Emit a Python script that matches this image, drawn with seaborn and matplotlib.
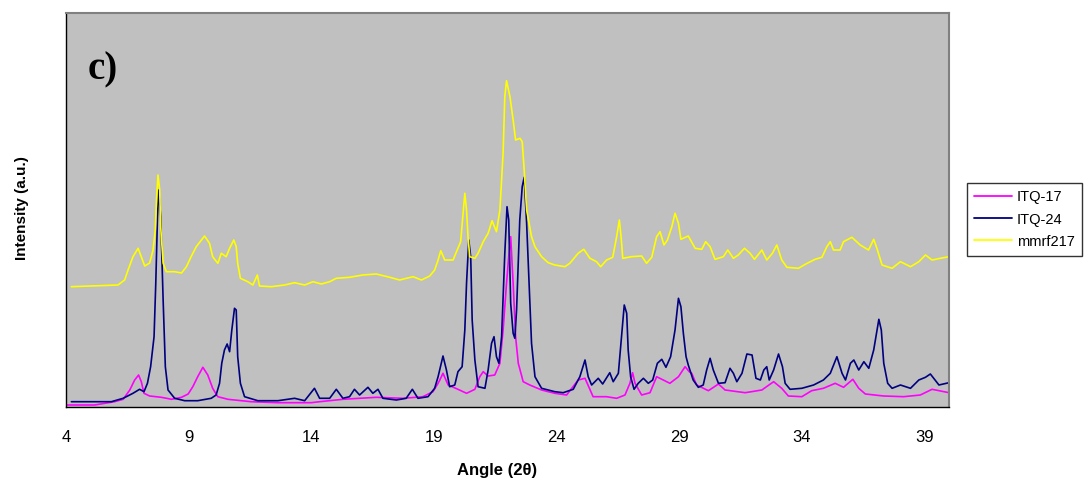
import numpy as np
import pandas as pd
import seaborn as sns
import matplotlib

matplotlib.use("Agg")
import matplotlib.pyplot as plt

# XRD patterns (angle in 2-theta, intensity in a.u.)
itq17_angle = [4.0, 5.17, 5.98, 6.33, 6.6, 6.8, 6.96, 7.07, 7.18, 7.41, 7.89, 8.3, 8.71,
               8.98, 9.17, 9.37, 9.58, 9.78, 9.98, 10.19, 10.6, 11.55, 12.64, 14.0, 14.34,
               15.29, 16.65, 17.74, 18.55, 18.96, 19.17, 19.24, 19.37, 19.58, 19.98, 20.33,
               20.67, 20.87, 21.01, 21.21, 21.48, 21.69, 21.82, 21.96, 22.05, 22.13, 22.23,
               22.33, 22.44, 22.64, 22.91, 23.39, 23.93, 24.41, 24.88, 25.16, 25.49, 26.04,
               26.45, 26.79, 26.99, 27.1, 27.2, 27.47, 27.81, 28.08, 28.35, 28.62, 28.97,
               29.24, 29.41, 29.51, 29.71, 30.19, 30.6, 30.87, 31.69, 32.37, 32.85, 33.18,
               33.45, 34.0, 34.4, 34.88, 35.36, 35.7, 36.08, 36.32, 36.59, 37.34, 38.15,
               38.83, 39.31, 40.0]
itq17_int = [17, 17, 50, 74, 167, 267, 317, 250, 134, 107, 94, 74, 94,
             127, 200, 300, 394, 317, 184, 100, 74, 50, 40, 40, 50,
             74, 94, 84, 100, 150, 234, 267, 334, 217, 174, 134,
             174, 300, 350, 307, 317, 434, 767, 1234, 1500, 1700, 1234,
             700, 434, 250, 217, 167, 134, 117, 267, 284, 100, 100,
             84, 117, 234, 340, 234, 117, 140, 300, 267, 234, 300,
             400, 350, 334, 217, 160, 227, 167, 140, 167, 250, 184,
             107, 100, 160, 184, 234, 194, 274, 184, 127, 107, 100,
             117, 174, 140]

itq24_angle = [4.22, 5.85, 6.33, 6.73, 7.0, 7.18, 7.32, 7.45, 7.59, 7.66, 7.73, 7.78, 7.86,
               7.96, 8.05, 8.16, 8.43, 8.84, 9.37, 9.92, 10.12, 10.26, 10.35, 10.46, 10.57,
               10.67, 10.76, 10.87, 10.94, 11.0, 11.11, 11.28, 11.82, 12.64, 13.32, 13.73,
               14.13, 14.34, 14.75, 15.02, 15.29, 15.56, 15.76, 15.97, 16.31, 16.51, 16.72,
               16.92, 17.47, 17.87, 18.12, 18.35, 18.76, 19.03, 19.17, 19.37, 19.51, 19.64,
               19.85, 19.98, 20.15, 20.26, 20.33, 20.42, 20.5, 20.56, 20.67, 20.8, 21.08,
               21.21, 21.35, 21.45, 21.55, 21.65, 21.76, 21.89, 21.98, 22.05, 22.13, 22.23,
               22.3, 22.37, 22.5, 22.6, 22.68, 22.78, 22.87, 22.98, 23.12, 23.39, 23.93,
               24.27, 24.68, 24.95, 25.16, 25.29, 25.43, 25.7, 25.88, 26.17, 26.31, 26.52,
               26.65, 26.76, 26.86, 26.92, 27.02, 27.16, 27.33, 27.54, 27.74, 27.92, 28.11,
               28.29, 28.46, 28.65, 28.83, 28.97, 29.07, 29.17, 29.28, 29.37, 29.57, 29.78,
               29.98, 30.12, 30.26, 30.39, 30.6, 30.87, 31.07, 31.21, 31.35, 31.56, 31.76,
               31.97, 32.13, 32.31, 32.45, 32.57, 32.67, 32.85, 33.05, 33.21, 33.32, 33.52,
               34.0, 34.48, 34.88, 35.16, 35.43, 35.64, 35.78, 35.98, 36.12, 36.32, 36.53,
               36.73, 36.93, 37.14, 37.24, 37.34, 37.5, 37.68, 38.02, 38.43, 38.77, 39.04,
               39.24, 39.59, 40.0]
itq24_int = [50, 50, 84, 134, 174, 150, 234, 400, 700, 1234, 1900, 2167, 1900,
             1067, 400, 167, 84, 60, 60, 84, 117, 234, 434, 567, 627,
             550, 767, 984, 967, 500, 234, 100, 60, 60, 84, 60,
             184, 84, 84, 174, 84, 100, 174, 117, 194, 134, 174,
             84, 67, 84, 174, 84, 100, 184, 300, 507, 367, 200,
             217, 350, 400, 767, 1234, 1667, 1500, 867, 467, 200, 184,
             367, 634, 700, 500, 434, 700, 1534, 2000, 1867, 1034, 734,
             684, 967, 1867, 2200, 2294, 1834, 1300, 634, 300, 184, 150,
             140, 174, 300, 467, 300, 217, 284, 227, 340, 250, 334,
             700, 1017, 934, 567, 300, 174, 234, 284, 234, 267, 434,
             474, 394, 500, 767, 1084, 1000, 734, 500, 417, 267, 194,
             217, 367, 484, 367, 234, 240, 384, 334, 250, 334, 527,
             517, 284, 267, 367, 400, 267, 367, 527, 400, 234, 174,
             184, 217, 267, 334, 500, 334, 267, 434, 467, 367, 450,
             384, 567, 874, 767, 434, 234, 184, 217, 184, 267, 294,
             327, 217, 240]

mmrf_angle = [4.22, 6.12, 6.39, 6.53, 6.73, 6.94, 7.07, 7.21, 7.41, 7.55, 7.64, 7.69, 7.75,
              7.82, 7.86, 7.96, 8.09, 8.43, 8.71, 8.91, 9.1, 9.31, 9.65, 9.85, 9.98,
              10.19, 10.33, 10.53, 10.67, 10.84, 10.94, 11.0, 11.11, 11.41, 11.62, 11.8,
              11.89, 12.37, 12.91, 13.32, 13.73, 14.07, 14.41, 14.75, 15.02, 15.56, 16.1,
              16.65, 17.2, 17.6, 18.15, 18.49, 18.83, 19.03, 19.17, 19.28, 19.44, 19.78,
              19.92, 20.09, 20.19, 20.26, 20.33, 20.39, 20.46, 20.67, 20.8, 21.01, 21.21,
              21.37, 21.55, 21.69, 21.82, 21.89, 21.96, 22.1, 22.23, 22.33, 22.51, 22.6,
              22.68, 22.78, 22.98, 23.12, 23.39, 23.66, 23.93, 24.34, 24.54, 24.88, 25.11,
              25.36, 25.63, 25.8, 26.04, 26.29, 26.45, 26.56, 26.63, 26.7, 27.06, 27.47,
              27.67, 27.88, 28.08, 28.22, 28.38, 28.52, 28.7, 28.83, 28.97, 29.07, 29.37,
              29.65, 29.92, 30.08, 30.26, 30.46, 30.8, 30.98, 31.21, 31.41, 31.66, 31.89,
              32.07, 32.37, 32.57, 32.8, 32.98, 33.18, 33.39, 33.86, 34.14, 34.54, 34.82,
              35.02, 35.16, 35.29, 35.56, 35.7, 36.04, 36.38, 36.72, 36.93, 37.06, 37.27,
              37.68, 38.02, 38.43, 38.77, 39.04, 39.31, 39.65, 40.0]
mmrf_int = [1200, 1217, 1267, 1367, 1500, 1584, 1500, 1407, 1437, 1567, 1767, 2067, 2317,
            2167, 1800, 1437, 1350, 1350, 1337, 1400, 1500, 1600, 1707, 1634, 1500,
            1434, 1534, 1500, 1584, 1667, 1600, 1434, 1284, 1250, 1217, 1317,
            1207, 1200, 1217, 1240, 1217, 1250, 1227, 1250, 1284, 1294, 1317,
            1327, 1294, 1267, 1300, 1267, 1307, 1367, 1467, 1560, 1467, 1467,
            1550, 1650, 1934, 2134, 1967, 1700, 1500, 1484, 1534, 1650, 1734,
            1860, 1750, 1967, 2534, 3100, 3260, 3100, 2867, 2667, 2684, 2650,
            2367, 1967, 1700, 1600, 1500, 1440, 1417, 1400, 1434, 1534, 1574,
            1484, 1450, 1400, 1467, 1494, 1700, 1867, 1700, 1484, 1500, 1507,
            1434, 1494, 1700, 1750, 1617, 1667, 1800, 1934, 1834, 1674, 1707,
            1584, 1574, 1650, 1600, 1474, 1500, 1567, 1484, 1517, 1584, 1534,
            1474, 1567, 1467, 1534, 1617, 1467, 1394, 1384, 1424, 1474, 1494,
            1600, 1650, 1567, 1567, 1650, 1694, 1617, 1567, 1674, 1584, 1417,
            1384, 1450, 1400, 1450, 1517, 1467, 1484, 1500]

samples = ["ITQ-17", "ITQ-24", "mmrf217"]
colors = ["#FF00FF", "#000080", "#FFFF00"]
x_ticks = [4, 9, 14, 19, 24, 29, 34, 39]

frames = []
for name, ang, inten in zip(samples,
                            [itq17_angle, itq24_angle, mmrf_angle],
                            [itq17_int, itq24_int, mmrf_int]):
    frames.append(pd.DataFrame({"angle": ang, "intensity": inten, "sample": name}))
df = pd.concat(frames, ignore_index=True)

sns.set_style("white")
plt.rcParams["font.family"] = ["Liberation Sans", "DejaVu Sans"]
plt.rcParams["text.color"] = "black"

fig = plt.figure(figsize=(10.85, 4.84), dpi=100)
ax = fig.add_axes([66 / 1085, 1 - 406.7 / 484, (949 - 66) / 1085, (406.7 - 12.7) / 484])
ax.set_facecolor("#C0C0C0")

sns.lineplot(data=df, x="angle", y="intensity", hue="sample", hue_order=samples,
             palette=dict(zip(samples, colors)), estimator=None, sort=False,
             linewidth=1.2, ax=ax)

ax.set_xlim(4, 40)
ax.set_ylim(0, 3940)
ax.set_xticks(x_ticks)
ax.set_yticks(np.linspace(0, 3940, 8))
ax.set_yticklabels([])
ax.tick_params(axis="x", direction="out", length=5, width=1, labelsize=12, pad=12, colors="black")
ax.tick_params(axis="y", direction="out", length=5, width=1, colors="black")
ax.set_xlabel("")
ax.set_ylabel("")
for side in ["left", "bottom"]:
    ax.spines[side].set_color("black")
    ax.spines[side].set_linewidth(1)
for side in ["top", "right"]:
    ax.spines[side].set_color("#808080")
    ax.spines[side].set_linewidth(1.5)

fig.text(497 / 1085, 1 - 470 / 484, "Angle (2θ)", ha="center", va="center",
         fontsize=12, fontweight="bold", color="black")
fig.text(22 / 1085, 1 - 208 / 484, "Intensity (a.u.)", ha="center", va="center",
         rotation=90, fontsize=11, fontweight="bold", color="black")
ax.text(0.025, 0.855, "c)", transform=ax.transAxes, ha="left", va="center",
        fontsize=28, fontweight="bold", color="black",
        family=["Liberation Serif", "DejaVu Serif"])

handles, labels = ax.get_legend_handles_labels()
leg = ax.legend(handles, labels, loc="center left",
                bbox_to_anchor=(967 / 1085, 1 - 219.5 / 484), bbox_transform=fig.transFigure,
                frameon=True, fancybox=False, edgecolor="black", fontsize=10.5,
                handlelength=2.6, handletextpad=0.3, borderpad=0.5, labelspacing=0.55,
                borderaxespad=0)
leg.get_frame().set_linewidth(1)
for text in leg.get_texts():
    text.set_color("black")
for line in leg.get_lines():
    line.set_linewidth(1.3)

fig.savefig("out.png", dpi=100)
